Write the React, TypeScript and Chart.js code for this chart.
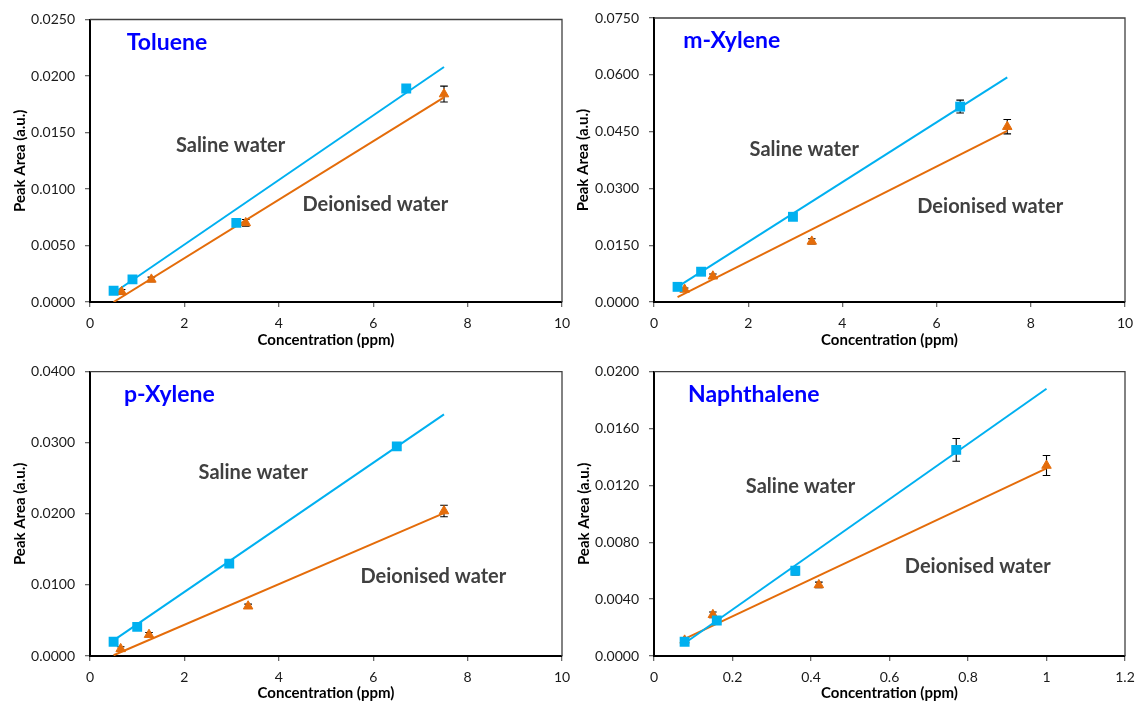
import React, { useEffect, useRef } from 'react';
import { Chart, registerables } from 'chart.js';

Chart.register(...registerables);

// ---------- DATA ----------
// Toluene
const tolueneSalineX = [0.5, 0.9, 3.1, 6.7];
const tolueneSalineY = [0.001, 0.002, 0.007, 0.0189];
const tolueneSalineErr = [0.0001, 0.0001, 0.0002, 0.0003];
const tolueneDeionX = [0.67, 1.3, 3.3, 7.5];
const tolueneDeionY = [0.0009, 0.002, 0.007, 0.0184];
const tolueneDeionErr = [0.0002, 0.0002, 0.0003, 0.0007];
const tolueneSalineFitX = [0.5, 7.5];
const tolueneSalineFitY = [0.0008, 0.0208];
const tolueneDeionFitX = [0.5, 7.5];
const tolueneDeionFitY = [0.0, 0.0181];

// m-Xylene
const mXyleneSalineX = [0.5, 1.0, 2.95, 6.5];
const mXyleneSalineY = [0.004, 0.008, 0.0225, 0.0516];
const mXyleneSalineErr = [0.0003, 0.0003, 0.0004, 0.0017];
const mXyleneDeionX = [0.65, 1.25, 3.35, 7.5];
const mXyleneDeionY = [0.0033, 0.0068, 0.016, 0.0463];
const mXyleneDeionErr = [0.0004, 0.0006, 0.0007, 0.0019];
const mXyleneSalineFitX = [0.5, 7.5];
const mXyleneSalineFitY = [0.004, 0.0593];
const mXyleneDeionFitX = [0.5, 7.5];
const mXyleneDeionFitY = [0.0013, 0.0452];

// p-Xylene
const pXyleneSalineX = [0.5, 1.0, 2.95, 6.5];
const pXyleneSalineY = [0.002, 0.0041, 0.013, 0.0295];
const pXyleneSalineErr = [0.0002, 0.0002, 0.0002, 0.0004];
const pXyleneDeionX = [0.65, 1.25, 3.35, 7.5];
const pXyleneDeionY = [0.001, 0.003, 0.007, 0.0204];
const pXyleneDeionErr = [0.0003, 0.0003, 0.0003, 0.0008];
const pXyleneSalineFitX = [0.5, 7.5];
const pXyleneSalineFitY = [0.0022, 0.034];
const pXyleneDeionFitX = [0.5, 7.5];
const pXyleneDeionFitY = [0.0001, 0.0201];

// Naphthalene
const naphSalineX = [0.078, 0.16, 0.36, 0.77];
const naphSalineY = [0.001, 0.0025, 0.006, 0.0145];
const naphSalineErr = [0.0001, 0.0002, 0.0003, 0.0008];
const naphDeionX = [0.078, 0.15, 0.42, 1.0];
const naphDeionY = [0.0011, 0.0029, 0.005, 0.0134];
const naphDeionErr = [0.0001, 0.0002, 0.0002, 0.0007];
const naphSalineFitX = [0.078, 1.0];
const naphSalineFitY = [0.0009, 0.0188];
const naphDeionFitX = [0.078, 1.0];
const naphDeionFitY = [0.0012, 0.0132];

// Tick values
const xTicksPpm = [0, 2, 4, 6, 8, 10];
const xTicksNaph = [0, 0.2, 0.4, 0.6, 0.8, 1, 1.2];
const yTicksToluene = [0, 0.005, 0.01, 0.015, 0.02, 0.025];
const yTicksMXylene = [0, 0.015, 0.03, 0.045, 0.06, 0.075];
const yTicksPXylene = [0, 0.01, 0.02, 0.03, 0.04];
const yTicksNaph = [0, 0.004, 0.008, 0.012, 0.016, 0.02];

const xTitle = 'Concentration (ppm)';
const yTitle = 'Peak Area (a.u.)';
const salineLabel = 'Saline water';
const deionLabel = 'Deionised water';

// ---------- STYLE ----------
const BLUE = '#00B0F0';
const ORANGE = '#E46C0A';
const FONT = "Lato, 'Open Sans', sans-serif";
const TICK_SIZE = 14;
const AXIS_TITLE_SIZE = 15;
const NOTE_SIZE = 20;
const NAME_SIZE = 23;

type Note = { text: string; x: number; y: number; kind: 'name' | 'note' };
type PanelCfg = {
  rect: [number, number, number, number];
  plot: [number, number, number, number];
  yTitleCenterX: number;
  xTitleCenterY: number;
  xTicks: number[];
  yTicks: number[];
  saline: { x: number[]; y: number[]; err: number[]; fx: number[]; fy: number[] };
  deion: { x: number[]; y: number[]; err: number[]; fx: number[]; fy: number[] };
  notes: Note[];
};

const panels: PanelCfg[] = [
  {
    rect: [0, 0, 580, 351],
    plot: [90, 19.5, 562, 302],
    yTitleCenterX: 20,
    xTitleCenterY: 340,
    xTicks: xTicksPpm,
    yTicks: yTicksToluene,
    saline: { x: tolueneSalineX, y: tolueneSalineY, err: tolueneSalineErr, fx: tolueneSalineFitX, fy: tolueneSalineFitY },
    deion: { x: tolueneDeionX, y: tolueneDeionY, err: tolueneDeionErr, fx: tolueneDeionFitX, fy: tolueneDeionFitY },
    notes: [
      { text: 'Toluene', x: 0.78, y: 0.0223, kind: 'name' },
      { text: salineLabel, x: 1.82, y: 0.0133, kind: 'note' },
      { text: deionLabel, x: 4.5, y: 0.00808, kind: 'note' },
    ],
  },
  {
    rect: [567, 0, 568, 351],
    plot: [654, 18, 1125, 302],
    yTitleCenterX: 583,
    xTitleCenterY: 340,
    xTicks: xTicksPpm,
    yTicks: yTicksMXylene,
    saline: { x: mXyleneSalineX, y: mXyleneSalineY, err: mXyleneSalineErr, fx: mXyleneSalineFitX, fy: mXyleneSalineFitY },
    deion: { x: mXyleneDeionX, y: mXyleneDeionY, err: mXyleneDeionErr, fx: mXyleneDeionFitX, fy: mXyleneDeionFitY },
    notes: [
      { text: 'm-Xylene', x: 0.62, y: 0.067, kind: 'name' },
      { text: salineLabel, x: 2.03, y: 0.0386, kind: 'note' },
      { text: deionLabel, x: 5.59, y: 0.0236, kind: 'note' },
    ],
  },
  {
    rect: [0, 351, 580, 351],
    plot: [90, 371.7, 562, 656],
    yTitleCenterX: 20,
    xTitleCenterY: 694,
    xTicks: xTicksPpm,
    yTicks: yTicksPXylene,
    saline: { x: pXyleneSalineX, y: pXyleneSalineY, err: pXyleneSalineErr, fx: pXyleneSalineFitX, fy: pXyleneSalineFitY },
    deion: { x: pXyleneDeionX, y: pXyleneDeionY, err: pXyleneDeionErr, fx: pXyleneDeionFitX, fy: pXyleneDeionFitY },
    notes: [
      { text: 'p-Xylene', x: 0.72, y: 0.0357, kind: 'name' },
      { text: salineLabel, x: 2.3, y: 0.0249, kind: 'note' },
      { text: deionLabel, x: 5.73, y: 0.0103, kind: 'note' },
    ],
  },
  {
    rect: [567, 351, 568, 351],
    plot: [654, 371.7, 1125, 656],
    yTitleCenterX: 584,
    xTitleCenterY: 693,
    xTicks: xTicksNaph,
    yTicks: yTicksNaph,
    saline: { x: naphSalineX, y: naphSalineY, err: naphSalineErr, fx: naphSalineFitX, fy: naphSalineFitY },
    deion: { x: naphDeionX, y: naphDeionY, err: naphDeionErr, fx: naphDeionFitX, fy: naphDeionFitY },
    notes: [
      { text: 'Naphthalene', x: 0.0866, y: 0.01785, kind: 'name' },
      { text: salineLabel, x: 0.234, y: 0.01145, kind: 'note' },
      { text: deionLabel, x: 0.639, y: 0.00582, kind: 'note' },
    ],
  },
];

const toPts = (xs: number[], ys: number[]) => xs.map((x, i) => ({ x, y: ys[i] }));

function Panel({ cfg }: { cfg: PanelCfg }) {
  const ref = useRef<HTMLCanvasElement>(null);
  const [cl, ct, cw, ch] = cfg.rect;

  useEffect(() => {
    const [L, T, R, B] = cfg.plot;
    const yW = L - cl;
    const xH = ct + ch - B;
    const lh = AXIS_TITLE_SIZE * 1.2;

    const errorBars = {
      id: 'errorBars',
      beforeDatasetsDraw(chart: any) {
        const { ctx, scales } = chart;
        ctx.save();
        ctx.strokeStyle = '#000';
        ctx.lineWidth = 1.1;
        [cfg.saline, cfg.deion].forEach((s) => {
          s.x.forEach((xv, i) => {
            const px = scales.x.getPixelForValue(xv);
            const y1 = scales.y.getPixelForValue(s.y[i] + s.err[i]);
            const y2 = scales.y.getPixelForValue(s.y[i] - s.err[i]);
            ctx.beginPath();
            ctx.moveTo(px, y1);
            ctx.lineTo(px, y2);
            ctx.moveTo(px - 3.8, y1);
            ctx.lineTo(px + 3.8, y1);
            ctx.moveTo(px - 3.8, y2);
            ctx.lineTo(px + 3.8, y2);
            ctx.stroke();
          });
        });
        ctx.restore();
      },
    };

    const frame = {
      id: 'frame',
      beforeDatasetsDraw(chart: any) {
        const { ctx, chartArea } = chart;
        ctx.save();
        ctx.strokeStyle = '#404040';
        ctx.lineWidth = 1.3;
        ctx.beginPath();
        ctx.moveTo(chartArea.left, chartArea.top);
        ctx.lineTo(chartArea.right, chartArea.top);
        ctx.lineTo(chartArea.right, chartArea.bottom);
        ctx.stroke();
        ctx.restore();
      },
    };

    const notes = {
      id: 'notes',
      afterDatasetsDraw(chart: any) {
        const { ctx, scales } = chart;
        ctx.save();
        ctx.textAlign = 'left';
        ctx.textBaseline = 'alphabetic';
        cfg.notes.forEach((n) => {
          if (n.kind === 'name') {
            ctx.font = `bold ${NAME_SIZE}px ${FONT}`;
            ctx.fillStyle = '#0000FF';
          } else {
            ctx.font = `bold ${NOTE_SIZE}px ${FONT}`;
            ctx.fillStyle = '#404040';
          }
          ctx.fillText(n.text, scales.x.getPixelForValue(n.x), scales.y.getPixelForValue(n.y));
        });
        ctx.restore();
      },
    };

    const xs = cfg.xTicks;
    const ys = cfg.yTicks;

    const chart = new Chart(ref.current as HTMLCanvasElement, {
      type: 'scatter',
      data: {
        datasets: [
          {
            label: salineLabel,
            data: toPts(cfg.saline.x, cfg.saline.y),
            pointStyle: 'rect',
            pointRadius: 7,
            pointBackgroundColor: BLUE,
            pointBorderWidth: 0,
            showLine: false,
            order: 0,
          },
          {
            label: deionLabel,
            data: toPts(cfg.deion.x, cfg.deion.y),
            pointStyle: 'triangle',
            pointRadius: 5.5,
            pointBackgroundColor: ORANGE,
            pointBorderColor: ORANGE,
            pointBorderWidth: 1,
            showLine: false,
            order: 1,
          },
          {
            label: 'saline fit',
            data: toPts(cfg.saline.fx, cfg.saline.fy),
            showLine: true,
            pointRadius: 0,
            borderColor: BLUE,
            borderWidth: 2,
            order: 2,
          },
          {
            label: 'deion fit',
            data: toPts(cfg.deion.fx, cfg.deion.fy),
            showLine: true,
            pointRadius: 0,
            borderColor: ORANGE,
            borderWidth: 2,
            order: 3,
          },
        ] as any,
      },
      options: {
        responsive: false,
        animation: false,
        devicePixelRatio: 1,
        events: [],
        layout: { padding: { left: 0, top: T - ct, right: cl + cw - R, bottom: 0 } },
        plugins: { legend: { display: false }, tooltip: { enabled: false } },
        scales: {
          x: {
            type: 'linear',
            min: xs[0],
            max: xs[xs.length - 1],
            afterBuildTicks: (s: any) => {
              s.ticks = xs.map((v) => ({ value: v }));
            },
            afterFit: (s: any) => {
              s.height = xH;
              s.paddingLeft = 0;
              s.paddingRight = 0;
            },
            ticks: {
              autoSkip: false,
              maxRotation: 0,
              padding: 8,
              color: '#1a1a1a',
              font: { family: FONT, size: TICK_SIZE },
              callback: (v: any) => String(Math.round(Number(v) * 10) / 10),
            },
            grid: { drawOnChartArea: false, drawTicks: true, tickLength: 5, color: '#6b6b6b', lineWidth: 1.3 },
            border: { color: '#000', width: 2 },
            title: {
              display: true,
              text: xTitle,
              color: '#000',
              font: { family: FONT, size: AXIS_TITLE_SIZE, weight: 'bold' },
              padding: { top: 0, bottom: Math.max(0, ct + ch - cfg.xTitleCenterY - lh / 2) },
            },
          },
          y: {
            type: 'linear',
            min: ys[0],
            max: ys[ys.length - 1],
            afterBuildTicks: (s: any) => {
              s.ticks = ys.map((v) => ({ value: v }));
            },
            afterFit: (s: any) => {
              s.width = yW;
              s.paddingTop = 0;
              s.paddingBottom = 0;
            },
            ticks: {
              autoSkip: false,
              padding: 10,
              color: '#1a1a1a',
              font: { family: FONT, size: TICK_SIZE },
              callback: (v: any) => Number(v).toFixed(4),
            },
            grid: { drawOnChartArea: false, drawTicks: true, tickLength: 5, color: '#6b6b6b', lineWidth: 1.3 },
            border: { color: '#000', width: 2 },
            title: {
              display: true,
              text: yTitle,
              color: '#000',
              font: { family: FONT, size: AXIS_TITLE_SIZE, weight: 'bold' },
              padding: { top: cfg.yTitleCenterX - cl - lh / 2, bottom: 0 },
            },
          },
        },
      } as any,
      plugins: [errorBars, frame, notes],
    });
    return () => chart.destroy();
  }, [cfg]);

  return (
    <canvas
      ref={ref}
      width={cw}
      height={ch}
      style={{ position: 'absolute', left: cl, top: ct, width: cw, height: ch }}
    />
  );
}

export default function App() {
  return (
    <div style={{ position: 'absolute', left: 0, top: 0, width: 1135, height: 702, background: '#fff' }}>
      {panels.map((p, i) => (
        <Panel key={i} cfg={p} />
      ))}
    </div>
  );
}
